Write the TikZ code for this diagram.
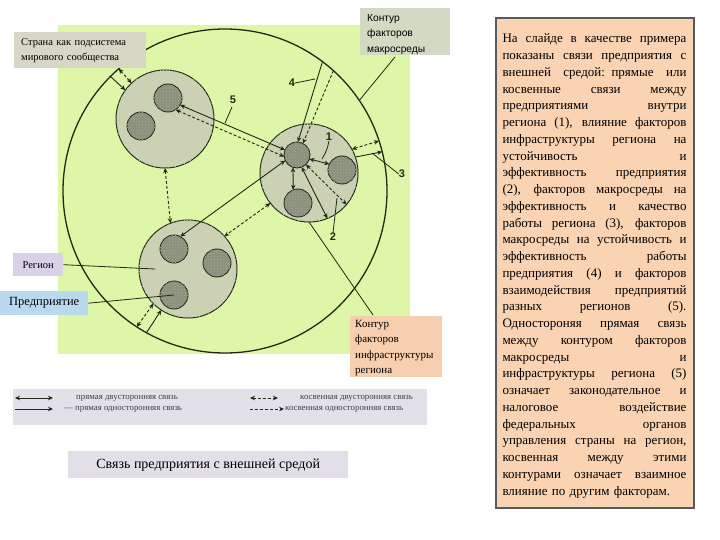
\documentclass[tikz,border=0pt]{standalone}
\usepackage{fontspec}
\setmainfont{Liberation Serif}
\newfontfamily\arialf{Liberation Sans}
\usetikzlibrary{arrows.meta,calc,patterns}
\definecolor{bggreen}{HTML}{DEF6A8}
\definecolor{regfill}{HTML}{CDD4B0}
\definecolor{entfill}{HTML}{8A917B}
\definecolor{linec}{HTML}{1E2A14}
\definecolor{stranafill}{HTML}{D7D7C7}
\definecolor{macrofill}{HTML}{D3DAC4}
\definecolor{peach}{HTML}{F8CFAE}
\definecolor{lavender}{HTML}{D9D2E6}
\definecolor{lblue}{HTML}{BBD9EE}
\definecolor{legfill}{HTML}{E2E1EA}
\definecolor{titlefill}{HTML}{E3DFE8}
\definecolor{txtfill}{HTML}{FAD3B3}
\definecolor{txtborder}{HTML}{555B60}
\newcommand\JLine[1]{\makebox[184pt][s]{\spaceskip=0.25em plus 1fil\relax #1}\\}
\begin{document}
\begin{tikzpicture}[x=1pt,y=-1pt,
  ln/.style={draw=linec, line width=0.9pt},
  ds/.style={ln, dash pattern=on 3pt off 2pt},
  both/.style={{Stealth[length=5pt,width=4.5pt]}-{Stealth[length=5pt,width=4.5pt]}},
  one/.style={-{Stealth[length=5pt,width=4.5pt]}},
  region/.style={circle, draw=linec, line width=1pt, fill=regfill, minimum size=98pt, inner sep=0pt, outer sep=0pt,
    postaction={pattern=crosshatch dots, pattern color=black!22}},
  ent/.style={circle, draw=linec, line width=0.9pt, fill=entfill, minimum size=28pt, inner sep=0pt, outer sep=0pt,
    postaction={pattern=crosshatch dots, pattern color=black!35}},
  lead/.style={draw=linec, line width=0.8pt},
  num/.style={font=\arialf\bfseries\fontsize{11}{11}\selectfont, text=linec, inner sep=0pt},
  lbl/.style={inner sep=0pt, align=left, anchor=north west},
  legtxt/.style={font=\fontsize{8.8}{9}\selectfont, text=black!75, inner sep=0pt, anchor=west}
]
\useasboundingbox (0,0) rectangle (720,540);
\fill[white] (0,0) rectangle (720,540);

% green background
\fill[bggreen] (58,25) rectangle (410,354);

% country circle
\node[circle, draw=linec, line width=1.3pt, minimum size=324pt, inner sep=0pt, outer sep=0pt] (BC) at (225,191) {};

% regions
\node[region] (A) at (165,119) {};
\node[region] (B) at (309,173) {};
\node[region] (C) at (188,269) {};

% enterprises
\node[ent] (A1) at (168,98) {};
\node[ent] (A2) at (141,126) {};
\node[ent, minimum size=26pt] (B1) at (297,155) {};
\node[ent] (B2) at (342,170) {};
\node[ent] (B3) at (298,203) {};
\node[ent] (C1) at (174,249) {};
\node[ent] (C2) at (217,263) {};
\node[ent] (C3) at (174,295) {};

% connections
\draw[ln,both] (A1.-30) -- (B1.157);
\draw[ds,both] (A1.-57) -- (B1.-173);
\draw[ln,one] (BC.53.9) -- (B1.86);
\draw[ds,one] (BC.48.25) -- (B1.63);
\draw[ln,both] (B1.-18) -- (B2.155);
\draw[ln,both] (B1.-108) -- (B3.110);
\draw[ln,both] (B1.-69) -- (B.-68);
\draw[ds,both] (B1.-47) -- (B.-40.7);
\draw[ds,both] (B.29.6) -- (BC.18);
\draw[ln,one] (B.19.5) -- (BC.14.9);
\draw[ln,both] (B1.-155) -- (C1.63);
\draw[ds,both] (B.-142.7) -- (C.42.6);
\draw[ds,both] (A.-90) -- (C.111);
\draw[ds,both] (BC.131.8) -- (A.133.4);
\draw[ln,one] (BC.135.2) -- (A.144);
\draw[ds,both] (BC.-123.7) -- (C.-135);
\draw[ln,one] (BC.-119.6) -- (C.-123);

% numbers
\node[num] (n5) at (233,100) {5};
\coordinate (p5) at (225,123);
\draw[lead] (232,107) -- (p5);
\node[num] (n4) at (292,83) {4};
\coordinate (p4) at (315,79);
\draw[lead] (n4.east) -- (p4);
\node[num] (n1) at (329,137) {1};
\coordinate (p1) at (322,159);
\draw[lead] (n1.south) to[bend left=10] (p1);
\node[num] (n2) at (333,237) {2};
\coordinate (p2) at (337,198);
\draw[lead] (n2.north) -- (p2);
\node[num] (n3) at (402,174) {3};
\coordinate (p3) at (372,153);
\draw[lead] (n3.west) -- (p3);

% label boxes
\node[fill=stranafill, minimum width=129pt, minimum height=36pt, text width=118pt, inner xsep=7pt, inner ysep=0pt, align=left,
      font=\fontsize{10.5}{15}\selectfont, anchor=north west] (strana) at (14,32) {Страна как подсистема\\мирового сообщества};

\fill[macrofill] (360,8) rectangle (450,55);
\node[lbl, font=\arialf\fontsize{10.2}{15.5}\selectfont] (macro) at (367,14) {Контур\\факторов\\макросреды};
\coordinate (macroL) at (395,57);
\draw[lead] (macroL) -- (BC.34.8);

\fill[peach] (350,316) rectangle (442,377);
\node[lbl, font=\fontsize{11}{15.3}\selectfont] (infra) at (355,320) {Контур\\факторов\\инфраструктуры\\региона};
\coordinate (infraL) at (373,315);
\draw[lead] (infraL) -- (B.-90);

\node[fill=lavender, minimum width=50pt, minimum height=23pt, inner sep=0pt, font=\fontsize{10.5}{11}\selectfont, anchor=north west] (reg) at (13,253) {Регион};
\coordinate (regP) at (155,269);
\draw[lead] (reg.east) -- (regP);

\node[fill=lblue, minimum width=88pt, minimum height=24pt, inner sep=0pt, font=\fontsize{12.5}{13}\selectfont, anchor=north west] (pred) at (0,291) {Предприятие};
\draw[lead] (pred.east) -- (C3.center);

% legend
\node[fill=legfill, minimum width=414pt, minimum height=36pt, inner sep=0pt, anchor=north west] (leg) at (13,389) {};
\coordinate (l1a) at (15,398); \coordinate (l1b) at (53,398);
\coordinate (l2a) at (15,409); \coordinate (l2b) at (53,409);
\coordinate (l3a) at (250,398); \coordinate (l3b) at (278,398);
\coordinate (l4a) at (250,409); \coordinate (l4b) at (284,409);
\draw[ln, line width=0.8pt, both] (l1a) -- (l1b);
\draw[ln, line width=0.8pt, one] (l2a) -- (l2b);
\draw[ds, line width=0.8pt, both] (l3a) -- (l3b);
\draw[ds, line width=0.8pt, one] (l4a) -- (l4b);
\node[legtxt] (t1) at (76,398) {прямая двусторонняя связь};
\node[legtxt] (t2) at (64,409) {— прямая односторонняя связь};
\node[legtxt] (t3) at (300,398) {косвенная двусторонняя связь};
\node[legtxt] (t4) at (285,409) {косвенная односторонняя связь};

% title
\node[fill=titlefill, minimum width=280pt, minimum height=27pt, inner sep=0pt, font=\fontsize{14}{15}\selectfont, anchor=north west] (title) at (68,451) {Связь предприятия с внешней средой};

% explanatory text
\node[fill=txtfill, draw=txtborder, line width=1.8pt, minimum width=198pt, minimum height=490pt, inner sep=0pt] (expl) at (595,263) {};
\node[text width=184pt, inner sep=0pt, align=left, font=\fontsize{13}{16.75}\selectfont] (expltxt) at (594.5,266) {%
\JLine{На слайде в качестве примера}
\JLine{показаны связи предприятия с}
\JLine{внешней средой: прямые или}
\JLine{косвенные связи между}
\JLine{предприятиями внутри}
\JLine{региона (1), влияние факторов}
\JLine{инфраструктуры региона на}
\JLine{устойчивость и}
\JLine{эффективность предприятия}
\JLine{(2), факторов макросреды на}
\JLine{эффективность и качество}
\JLine{работы региона (3), факторов}
\JLine{макросреды на устойчивость и}
\JLine{эффективность работы}
\JLine{предприятия (4) и факторов}
\JLine{взаимодействия предприятий}
\JLine{разных регионов (5).}
\JLine{Одностороняя прямая связь}
\JLine{между контуром факторов}
\JLine{макросреды и}
\JLine{инфраструктуры региона (5)}
\JLine{означает законодательное и}
\JLine{налоговое воздействие}
\JLine{федеральных органов}
\JLine{управления страны на регион,}
\JLine{косвенная между этими}
\JLine{контурами означает взаимное}
влияние по другим факторам.};
\end{tikzpicture}
\end{document}
